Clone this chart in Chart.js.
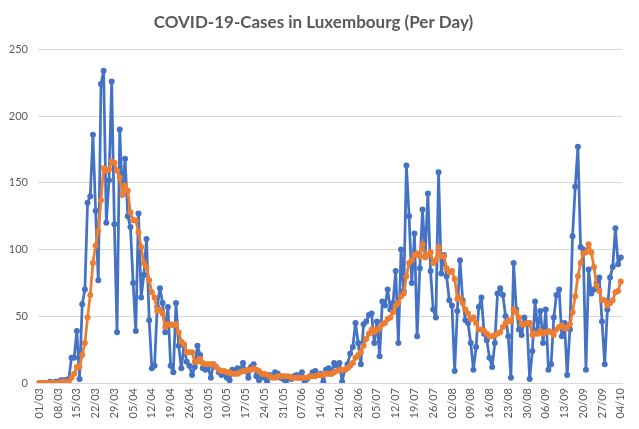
<!DOCTYPE html>
<html>
<head>
<meta charset="utf-8">
<title>COVID-19-Cases in Luxembourg (Per Day)</title>
<script src="https://cdn.jsdelivr.net/npm/chart.js@4.4.0/dist/chart.umd.min.js"></script>
<style>
  html, body { margin: 0; padding: 0; background: #fff; }
  #wrap { width: 639px; height: 429px; position: relative; }
</style>
</head>
<body>
<div id="wrap"><canvas id="cases-chart"></canvas></div>
<script>
// new cases per day, 01/03 - 04/10 (one row = one week, starting on a Sunday)
const dailyCases = [
  0, 0, 0, 0, 1, 0, 1,
  1, 2, 2, 2, 3, 19, 19,
  39, 3, 59, 70, 135, 140, 186,
  129, 77, 224, 234, 120, 152, 226,
  119, 38, 190, 141, 168, 125, 117,
  75, 39, 127, 64, 81, 108, 47,
  11, 13, 57, 71, 60, 38, 57,
  13, 8, 60, 28, 11, 28, 16,
  13, 6, 12, 28, 21, 11, 10,
  12, 4, 14, 12, 8, 6, 7,
  4, 2, 10, 9, 11, 10, 15,
  9, 4, 12, 14, 5, 2, 5,
  4, 1, 6, 5, 8, 7, 4,
  3, 1, 4, 3, 5, 6, 4,
  8, 1, 3, 5, 8, 9, 6,
  7, 1, 10, 11, 7, 15, 13,
  15, 1, 10, 14, 22, 27, 45,
  30, 14, 44, 46, 51, 52, 30,
  46, 20, 61, 58, 70, 55, 60,
  84, 30, 100, 69, 163, 125, 75,
  112, 35, 86, 130, 95, 142, 84,
  55, 49, 158, 82, 96, 80, 62,
  58, 9, 54, 92, 62, 47, 45,
  30, 10, 27, 57, 64, 37, 32,
  19, 12, 30, 67, 71, 66, 50,
  35, 4, 90, 55, 40, 36, 49,
  44, 3, 24, 61, 40, 54, 30,
  55, 10, 14, 49, 66, 70, 35,
  45, 6, 40, 110, 147, 177, 102,
  100, 10, 85, 67, 70, 75, 79,
  46, 14, 55, 79, 87, 116, 89,
  94
];

// 7-day average line (orange), same days
const weekAverage = [
  0, 0, 0, 0, 0, 0, 0,
  0, 1, 1, 1, 1, 4, 7,
  12, 12, 21, 30, 49, 66, 90,
  103, 114, 137, 161, 159, 160, 166,
  165, 159, 154, 141, 148, 144, 128,
  122, 122, 113, 102, 90, 87, 77,
  68, 64, 54, 55, 52, 42, 44,
  44, 43, 44, 38, 31, 29, 23,
  23, 23, 16, 16, 18, 15, 14,
  14, 14, 14, 12, 10, 9, 9,
  8, 8, 7, 7, 7, 8, 9,
  9, 10, 10, 11, 10, 9, 7,
  7, 6, 5, 4, 4, 5, 5,
  5, 5, 5, 4, 4, 4, 4,
  4, 4, 4, 5, 5, 5, 6,
  6, 6, 7, 7, 7, 8, 9,
  10, 10, 10, 11, 13, 15, 19,
  21, 23, 28, 33, 37, 40, 38,
  40, 41, 44, 45, 48, 49, 53,
  58, 60, 65, 67, 80, 90, 92,
  96, 97, 95, 104, 94, 96, 98,
  90, 92, 102, 95, 95, 86, 83,
  84, 78, 63, 64, 60, 55, 52,
  48, 49, 45, 40, 40, 39, 37,
  35, 35, 36, 37, 38, 42, 45,
  47, 46, 55, 53, 49, 44, 44,
  45, 45, 36, 37, 37, 39, 37,
  38, 39, 38, 36, 40, 42, 43,
  41, 41, 44, 53, 65, 80, 90,
  97, 98, 104, 98, 87, 73, 69,
  62, 62, 58, 60, 62, 68, 69,
  76
];

const yTicks = [0, 50, 100, 150, 200, 250];
const labelEvery = 7;

// one category per day, shown as dd/mm
const firstDay = new Date(2020, 2, 1);
const dayLabels = [];
for (let i = 0; i < dailyCases.length; i++) {
  const d = new Date(firstDay.getFullYear(), firstDay.getMonth(), firstDay.getDate() + i);
  const dd = String(d.getDate()).padStart(2, '0');
  const mm = String(d.getMonth() + 1).padStart(2, '0');
  dayLabels.push(dd + '/' + mm);
}

const grey = '#595959';
const gridGrey = '#d9d9d9';

new Chart(document.getElementById('cases-chart'), {
  type: 'line',
  data: {
    labels: dayLabels,
    datasets: [
      {
        label: 'Cases per day',
        data: dailyCases,
        borderColor: '#4472C4',
        backgroundColor: '#4472C4',
        borderWidth: 2.75,
        borderJoinStyle: 'round',
        borderCapStyle: 'round',
        pointRadius: 3,
        pointBorderWidth: 0,
        tension: 0,
        order: 2
      },
      {
        label: '7-day average',
        data: weekAverage,
        borderColor: '#ED7D31',
        backgroundColor: '#ED7D31',
        borderWidth: 2.75,
        borderJoinStyle: 'round',
        borderCapStyle: 'round',
        pointRadius: 3,
        pointBorderWidth: 0,
        tension: 0,
        order: 1
      }
    ]
  },
  options: {
    responsive: true,
    maintainAspectRatio: false,
    animation: false,
    layout: { padding: { left: 0, right: 12, top: 0, bottom: 0 } },
    plugins: {
      legend: { display: false },
      tooltip: { enabled: false },
      title: {
        display: true,
        text: 'COVID-19-Cases in Luxembourg (Per Day)',
        color: grey,
        font: { family: 'Lato', size: 17, weight: 'bold' },
        padding: { top: 12, bottom: 17 }
      }
    },
    scales: {
      x: {
        offset: true,
        grid: { display: false, drawTicks: false },
        border: { display: true, color: gridGrey, width: 1 },
        ticks: {
          autoSkip: false,
          minRotation: 90,
          maxRotation: 90,
          padding: 5,
          color: grey,
          font: { family: 'Lato', size: 11 },
          callback: function(value, index) {
            return index % labelEvery === 0 ? this.getLabelForValue(value) : '';
          }
        },
        afterFit: function(scale) { scale.height = 46; }
      },
      y: {
        min: yTicks[0],
        max: yTicks[yTicks.length - 1],
        afterBuildTicks: function(scale) {
          scale.ticks = yTicks.map(v => ({ value: v }));
        },
        grid: { color: gridGrey, drawTicks: false },
        border: { display: false },
        ticks: {
          padding: 10,
          color: grey,
          font: { family: 'Lato', size: 11 }
        },
        afterFit: function(scale) { scale.width = 38; }
      }
    }
  }
});
</script>
</body>
</html>
